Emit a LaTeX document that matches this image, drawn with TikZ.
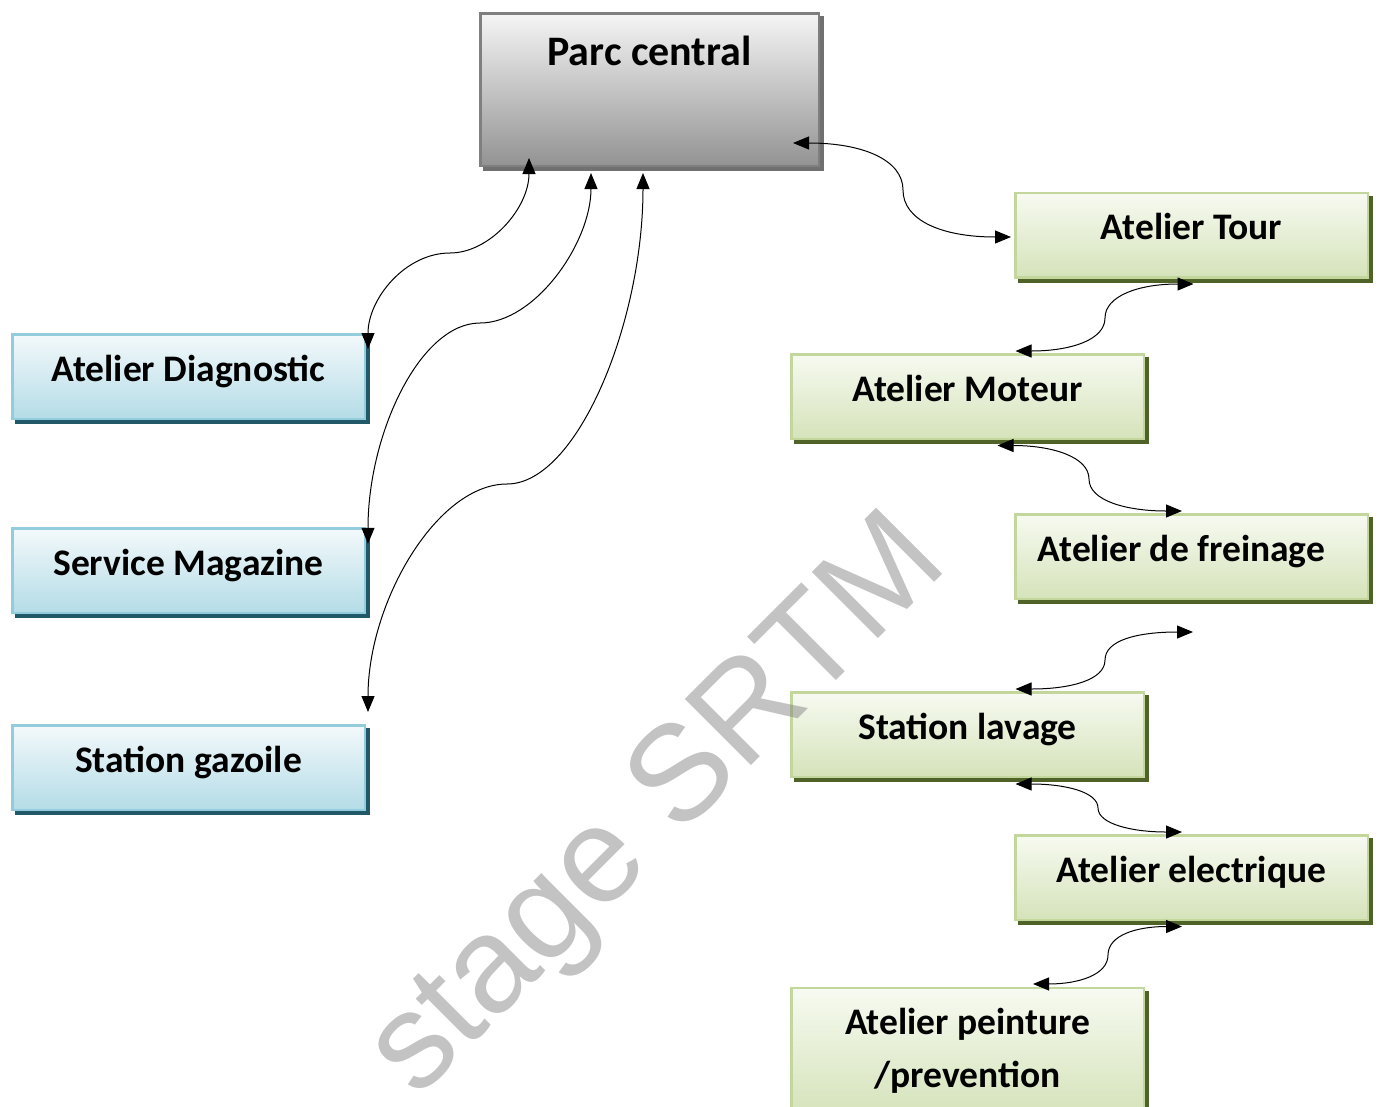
\documentclass[tikz,border=0pt]{standalone}
\usepackage{fontspec}
\setmainfont{Carlito}
\newfontfamily\wmfont{Liberation Sans}
\usetikzlibrary{arrows.meta,shadows,calc}
\definecolor{parctop}{HTML}{F5F5F5}
\definecolor{parcbot}{HTML}{939393}
\definecolor{parcline}{HTML}{7F7F7F}
\definecolor{parcshadow}{HTML}{707070}
\definecolor{bluetop}{HTML}{F3F9FB}
\definecolor{bluebot}{HTML}{B4DCE7}
\definecolor{blueline}{HTML}{93CDDD}
\definecolor{blueshadow}{HTML}{215968}
\definecolor{greentop}{HTML}{F7FAF1}
\definecolor{greenbot}{HTML}{D5E3BA}
\definecolor{greenline}{HTML}{C3D69B}
\definecolor{greenshadow}{HTML}{4F6228}
\definecolor{wmgray}{HTML}{808080}
\begin{document}
\begin{tikzpicture}[x=1pt,y=-1pt,
  boxbase/.style={rectangle, inner sep=0pt, line width=2.5pt,
    font=\fontsize{37.5}{44}\selectfont\bfseries,
    text height=47pt, text depth=37.5pt,
    minimum width=352.5pt, minimum height=84.5pt},
  bluebox/.style={boxbase, draw=blueline, top color=bluetop, bottom color=bluebot,
    general shadow={fill=blueshadow, draw=blueshadow, line width=2.5pt,
      shadow xshift=4pt, shadow yshift=-4pt}},
  greenbox/.style={boxbase, draw=greenline, top color=greentop, bottom color=greenbot,
    general shadow={fill=greenshadow, draw=greenshadow, line width=2.5pt,
      shadow xshift=4pt, shadow yshift=-4pt}},
  parcbox/.style={rectangle, inner sep=0pt, line width=2.5pt,
    draw=parcline, top color=parctop, bottom color=parcbot,
    font=\fontsize{42}{49}\selectfont\bfseries,
    text height=52pt, text depth=100.5pt,
    minimum width=338.5pt, minimum height=152.5pt,
    general shadow={fill=parcshadow, draw=parcshadow, line width=2.5pt,
      shadow xshift=4pt, shadow yshift=-4pt}},
  link/.style={line width=1pt, {Triangle[length=16pt,width=13pt]}-{Triangle[length=16pt,width=13pt]}},
  wm/.style={font=\wmfont\fontsize{136}{136}\selectfont, text=wmgray,
    text opacity=0.47, rotate=45, anchor=base, inner sep=0pt}
]
\useasboundingbox (0,0) rectangle (1381,1106);

% boxes
\node[parcbox] (parc) at (649.5,89.5) {Parc central};

\node[bluebox] (diag) at (188.5,376.5) {Atelier Diagnostic};
\node[bluebox] (mag)  at (188.5,570.5) {Service Magazine};
\node[bluebox] (gaz)  at (188.5,767.5) {Station gazoile};

\node[greenbox] (tour)   at (1191.5,235) {Atelier Tour};
\node[greenbox] (moteur) at (967.5,396.5) {Atelier Moteur};
\node[greenbox] (frein)  at (1191.5,556.5) {\hspace*{-20pt}Atelier de freinage};
\node[greenbox] (lavage) at (967.5,734.5) {Station lavage};
\node[greenbox] (elec)   at (1191.5,877.5) {Atelier electrique};
\node[greenbox, minimum height=126.75pt, text height=46pt, text depth=80.75pt,
      font=\fontsize{37.5}{53}\selectfont\bfseries] (peint) at (967.5,1051.6)
      {\parbox[t]{352pt}{\centering Atelier peinture\\/prevention}};

\coordinate (free) at ($(frein.south)+(1.5,32)$);

% left connectors
\draw[link] ($(parc.south west)+(50,-9)$) .. controls +(0,50) and +(40,0) .. (450,253)
  .. controls +(-45,0) and +(0,-50) .. ($(diag.north east)+(2,16)$);
\draw[link] ($(parc.south west)+(112,6)$) .. controls +(0,70) and +(55,0) .. (480,323)
  .. controls +(-60,0) and +(0,-110) .. ($(mag.north east)+(2,16.75)$);
\draw[link] ($(parc.south west)+(164,6)$) .. controls +(0,150) and +(70,0) .. (507,484)
  .. controls +(-70,0) and +(0,-110) .. ($(gaz.north east)+(2,-12)$);

% right connectors
\draw[link] ($(parc.east)+(-27,53.5)$) .. controls +(70,0) and +(0,-30) .. (903,190)
  .. controls +(0,30) and +(-70,0) .. ($(tour.west)+(-3,2)$);
\draw[link] ($(tour.south)+(2,5.5)$) .. controls +(-55,0) and +(0,-22) .. (1105,318)
  .. controls +(0,22) and +(55,0) .. ($(moteur.north)+(48,-2)$);
\draw[link] ($(moteur.south)+(30,5.5)$) .. controls +(55,0) and +(0,-22) .. (1089,479)
  .. controls +(0,22) and +(-55,0) .. ($(frein.north)+(-9.5,-2)$);
\draw[link] (free) .. controls +(-55,0) and +(0,-20) .. (1105,660)
  .. controls +(0,20) and +(55,0) .. ($(lavage.north)+(48,-2)$);
\draw[link] ($(lavage.south)+(48,6)$) .. controls +(50,0) and +(0,-16) .. (1098,808)
  .. controls +(0,16) and +(-50,0) .. ($(elec.north)+(-9.5,-2)$);
\draw[link] ($(elec.south)+(-9.5,5.5)$) .. controls +(-45,0) and +(0,-20) .. (1108,955)
  .. controls +(0,20) and +(45,0) .. ($(peint.north)+(65.5,-3)$);

% watermark
\node[wm] (wmark) at (684,833) {stage SRTM};
\end{tikzpicture}
\end{document}
